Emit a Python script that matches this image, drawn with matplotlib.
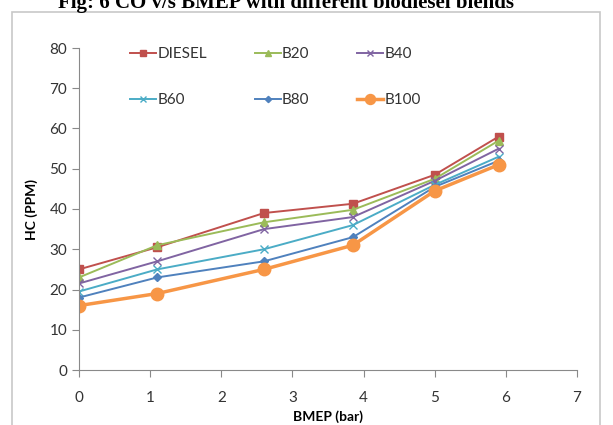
import matplotlib.pyplot as plt
from matplotlib.patches import Rectangle

bmep = [0, 1.1, 2.6, 3.85, 5.0, 5.9]
diesel = [25, 30.5, 39, 41.3, 48.5, 58]
b20 = [23, 31, 36.7, 39.8, 47.5, 57]
b40 = [21.5, 27, 35, 38, 47, 55]
b60 = [19.5, 25, 30, 36, 46, 53]
b80 = [18, 23, 27, 33, 45.5, 52]
b100 = [16, 19, 25, 31, 44.5, 51]

plt.rcParams['font.family'] = ['Lato', 'DejaVu Sans']

fig = plt.figure(figsize=(6.13, 4.25), dpi=100)
fig.patches.append(Rectangle((12/613, -0.01), 588/613, 1 - 12/425 + 0.01,
                             transform=fig.transFigure, fill=False,
                             edgecolor='#c8c8c8', linewidth=1.2))
fig.text(0.095, 1 - 8/425, 'Fig: 6 CO v/s BMEP with different biodiesel blends',
         family='Liberation Serif', fontweight='bold', fontsize=15,
         va='baseline', ha='left')

ax = fig.add_axes([79/613, 1 - 370/425, 498/613, 322/425])

ax.plot(bmep, diesel, color='#C0504D', marker='s', markersize=6, lw=1.4, label='DIESEL')
ax.plot(bmep, b20, color='#9BBB59', marker='^', markersize=6, lw=1.4, label='B20')
ax.plot(bmep, b40, color='#8064A2', marker='x', markersize=6, lw=1.4, label='B40')
ax.plot(bmep, b60, color='#4BACC6', marker='x', markersize=6, lw=1.4, label='B60')
ax.plot(bmep, b80, color='#4F81BD', marker='D', markersize=4, lw=1.4, label='B80')
ax.plot(bmep, b100, color='#F79646', marker='o', markersize=9, lw=2.5, label='B100')

ax.set_xlim(0, 7)
ax.set_ylim(0, 80)
ax.set_xticks(range(0, 8))
ax.set_yticks(range(0, 81, 10))
for s in ['top', 'right']:
    ax.spines[s].set_visible(False)
for s in ['left', 'bottom']:
    ax.spines[s].set_color('#898989')
ax.tick_params(colors='#898989', labelcolor='#333333', labelsize=11, length=5)
ax.tick_params(axis='x', pad=10)
ax.set_ylabel('HC (PPM)', fontweight='bold', fontsize=10, labelpad=8)
ax.set_xlabel('BMEP (bar)', fontweight='bold', fontsize=10, labelpad=4)

h, l = ax.get_legend_handles_labels()
order = [0, 3, 1, 4, 2, 5]
ax.legend([h[i] for i in order], [l[i] for i in order], ncol=3,
          loc='upper left', bbox_to_anchor=(0.075, 1.045), frameon=False,
          fontsize=11, labelspacing=2.1, columnspacing=3.1, markerscale=0.8,
          handlelength=1.7, handletextpad=0.1, labelcolor='#333333')

fig.savefig('out.png')
